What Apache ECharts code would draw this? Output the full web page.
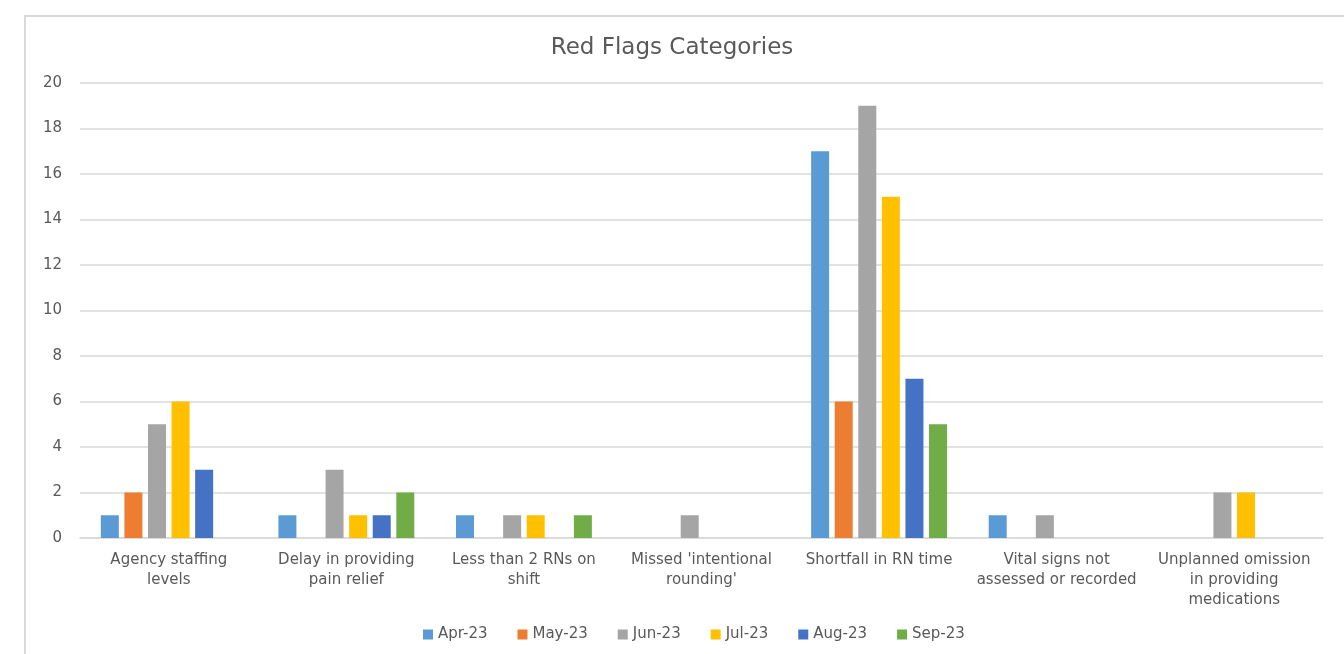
<!DOCTYPE html>
<html>
<head>
<meta charset="utf-8">
<script src="https://cdn.jsdelivr.net/npm/echarts@6/dist/echarts.min.js"></script>
<style>
  html, body { margin: 0; padding: 0; background: #fff; }
  #chart { width: 1344px; height: 654px; }
</style>
</head>
<body>
<div id="chart"></div>
<script>
// Red flag categories (line breaks as they wrap under the axis)
const categories = [
  'Agency staffing\nlevels',
  'Delay in providing\npain relief',
  'Less than 2 RNs on\nshift',
  "Missed 'intentional\nrounding'",
  'Shortfall in RN time',
  'Vital signs not\nassessed or recorded',
  'Unplanned omission\nin providing\nmedications'
];

const months = ['Apr-23', 'May-23', 'Jun-23', 'Jul-23', 'Aug-23', 'Sep-23'];

const apr23 = [1, 1, 1, 0, 17, 1, 0];
const may23 = [2, 0, 0, 0, 6, 0, 0];
const jun23 = [5, 3, 1, 1, 19, 1, 2];
const jul23 = [6, 1, 1, 0, 15, 0, 2];
const aug23 = [3, 1, 0, 0, 7, 0, 0];
const sep23 = [0, 2, 1, 0, 5, 0, 0];

const yTicks = { min: 0, max: 20, interval: 2 };

const seriesValues = [apr23, may23, jun23, jul23, aug23, sep23];
const colors = ['#5B9BD5', '#ED7D31', '#A5A5A5', '#FFC000', '#4472C4', '#70AD47'];

const font = '"DejaVu Sans", "Open Sans", sans-serif';
const textColor = '#595959';

const chart = echarts.init(document.getElementById('chart'));
chart.setOption({
  animation: false,
  textStyle: { fontFamily: font },
  color: colors,
  title: {
    text: 'Red Flags Categories',
    left: 'center',
    top: 32,
    textStyle: { fontFamily: font, fontSize: 23, fontWeight: 'normal', color: textColor }
  },
  graphic: [{
    type: 'rect',
    shape: { x: 25, y: 16, width: 1340, height: 660 },
    style: { fill: 'none', stroke: '#d9d9d9', lineWidth: 2 },
    silent: true,
    z: -1
  }],
  legend: {
    bottom: 7,
    left: 418,
    itemWidth: 10,
    itemHeight: 10,
    itemGap: 30,
    icon: 'rect',
    textStyle: { fontFamily: font, fontSize: 15, color: textColor }
  },
  grid: { left: 80, right: 21, top: 83, bottom: 116, containLabel: false },
  xAxis: {
    type: 'category',
    data: categories,
    axisTick: { show: false },
    axisLine: { lineStyle: { color: '#d9d9d9', width: 1.5 } },
    axisLabel: {
      interval: 0,
      margin: 12,
      fontFamily: font,
      fontSize: 15,
      lineHeight: 20,
      color: textColor
    }
  },
  yAxis: {
    type: 'value',
    min: yTicks.min,
    max: yTicks.max,
    interval: yTicks.interval,
    axisLine: { show: false },
    axisTick: { show: false },
    axisLabel: { margin: 18, fontFamily: font, fontSize: 15, color: textColor },
    splitLine: { lineStyle: { color: '#d9d9d9', width: 1.5 } }
  },
  series: months.map((m, i) => ({
    name: m,
    type: 'bar',
    data: seriesValues[i],
    barWidth: 18,
    barGap: '31%',
    itemStyle: { color: colors[i] }
  }))
});
</script>
</body>
</html>
